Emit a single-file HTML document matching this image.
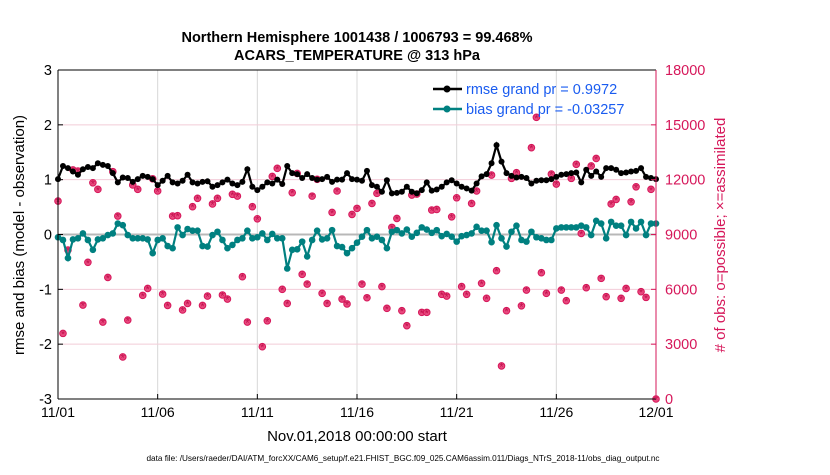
<!DOCTYPE html>
<html><head><meta charset="utf-8"><style>
body{margin:0;background:#fff}
svg text{font-family:"Liberation Sans",Arial,sans-serif}
</style></head><body>
<svg id="chart" width="830" height="470" viewBox="0 0 830 470" xmlns="http://www.w3.org/2000/svg">
<rect width="830" height="470" fill="#fff"/>
<g id="grid"></g>
<g id="obs"></g>
<g id="lines"></g>
<g id="axes"></g>
<text x="357" y="42" text-anchor="middle" font-size="14.5" font-weight="bold">Northern Hemisphere 1001438 / 1006793 = 99.468%</text>
<text x="357" y="60" text-anchor="middle" font-size="14.5" font-weight="bold">ACARS_TEMPERATURE @ 313 hPa</text>
<text x="357" y="441" text-anchor="middle" font-size="15">Nov.01,2018 00:00:00 start</text>
<text transform="translate(24,235) rotate(-90)" text-anchor="middle" font-size="15">rmse and bias (model - observation)</text>
<text transform="translate(725,235) rotate(-90)" text-anchor="middle" font-size="15" fill="#d6175a"># of obs: o=possible; ×=assimilated</text>
<text x="403" y="461" text-anchor="middle" font-size="8.2">data file: /Users/raeder/DAI/ATM_forcXX/CAM6_setup/f.e21.FHIST_BGC.f09_025.CAM6assim.011/Diags_NTrS_2018-11/obs_diag_output.nc</text>
<g>
<line x1="433" y1="89" x2="462" y2="89" stroke="#000" stroke-width="2.5"/>
<circle cx="447" cy="89" r="3.5" fill="#000"/>
<text x="466" y="94" font-size="14.5" fill="#1a5cf0">rmse grand pr = 0.9972</text>
<line x1="433" y1="109" x2="462" y2="109" stroke="#008080" stroke-width="2.5"/>
<circle cx="447" cy="109" r="3.5" fill="#008080"/>
<text x="466" y="114" font-size="14.5" fill="#1a5cf0">bias grand pr = -0.03257</text>
</g>
</svg>
<script>
const xTickLabels=["11/01","11/06","11/11","11/16","11/21","11/26","12/01"];
const leftTicks=[-3,-2,-1,0,1,2,3];
const rightTicks=[0,3000,6000,9000,12000,15000,18000];
const rmse=[1.01,1.25,1.21,1.15,1.09,1.19,1.23,1.21,1.30,1.27,1.25,1.12,0.95,1.04,1.03,0.96,1.01,1.07,1.05,1.01,0.90,0.98,1.07,0.95,0.93,0.98,1.09,0.95,0.93,0.96,
0.97,0.87,0.90,0.95,1.0,0.93,0.90,0.96,1.19,0.87,0.81,0.87,0.95,0.93,1.0,0.92,1.25,1.12,1.10,1.03,1.10,1.03,1.0,1.01,1.05,0.96,1.0,1.0,1.12,1.01,
1.0,0.98,1.16,0.90,0.87,0.78,0.99,0.75,0.76,0.78,0.87,0.78,0.75,0.81,0.95,0.80,0.82,0.87,0.95,0.99,0.93,0.87,0.84,0.80,0.93,1.06,1.10,1.30,1.63,1.33,
1.12,1.07,1.04,1.05,1.03,0.93,0.98,0.99,0.99,1.01,1.05,1.09,1.10,1.12,1.13,0.95,1.18,1.07,1.15,1.05,1.21,1.21,1.18,1.12,1.13,1.15,1.16,1.21,1.05,1.03,1.01];
const bias=[-0.05,-0.10,-0.43,-0.09,-0.07,0.02,-0.10,-0.28,-0.09,-0.07,-0.01,0.02,0.20,0.17,-0.01,-0.07,-0.07,-0.07,-0.09,-0.34,-0.10,-0.07,-0.21,-0.25,0.13,-0.01,0.10,0.07,0.07,-0.21,
-0.22,-0.01,0.05,-0.10,-0.25,-0.19,-0.10,-0.07,0.07,-0.07,-0.05,0.02,-0.10,0.01,-0.07,-0.07,-0.62,-0.28,-0.27,-0.13,-0.40,-0.10,0.07,-0.09,-0.07,0.08,-0.21,-0.23,-0.34,-0.25,
-0.15,-0.04,0.08,-0.07,-0.04,-0.10,-0.25,0.05,0.08,0.02,0.09,-0.04,0.03,0.13,0.09,0.03,0.08,-0.03,0.01,-0.04,-0.13,-0.03,-0.01,0.02,0.14,0.07,0.07,-0.14,0.17,-0.07,
-0.22,0.05,0.16,-0.10,-0.13,0.05,-0.05,-0.07,-0.10,-0.10,0.11,0.13,0.13,0.13,0.13,0.16,0.13,-0.01,0.25,0.20,-0.07,0.23,0.16,0.16,-0.01,0.23,0.11,0.23,-0.01,0.20,0.20];
const obsCount=[10830,3590,8150,12530,12470,5140,7480,11830,11470,4210,6650,12440,10010,2300,4320,11710,11470,5670,6050,12050,11380,5740,5120,10010,10030,4870,5230,10520,10980,5120,
5630,10670,10980,5690,5470,11200,11100,6690,4210,10520,9860,2860,4280,12180,12620,6000,5230,11290,12340,6820,6290,11100,12020,5780,5230,10210,11380,5470,5200,10100,10430,
6290,5540,10700,11250,6150,4960,9390,9880,4830,4010,11160,11210,4740,4740,10340,10370,5730,5630,9970,11010,6150,5730,10700,11380,6330,5510,12250,7020,1810,4830,
12070,12380,5100,5960,13750,15410,6910,5780,12310,11760,5960,5380,12070,12840,9060,6090,12750,13160,6600,5600,10670,10920,5510,6050,10790,11610,5870,5560,11470,0];
const X0=58,X1=656,Y0=70,Y1=399,DAYS=30;
const pink="#d6175a",NS="http://www.w3.org/2000/svg";
function xs(d){return X0+(X1-X0)*d/DAYS;}
function yl(v){return Y1-(v+3)/6*(Y1-Y0);}
function yr(c){return Y1-c/18000*(Y1-Y0);}
function mk(tag,attrs,parent){const e=document.createElementNS(NS,tag);for(const k in attrs)e.setAttribute(k,attrs[k]);parent.appendChild(e);return e;}
const grid=document.getElementById('grid'),axes=document.getElementById('axes'),obs=document.getElementById('obs'),lines=document.getElementById('lines');
xTickLabels.forEach((t,i)=>{const x=xs(i*5);
 if(i>0&&i<6){const g=mk('line',{x1:x,x2:x,y1:Y0,y2:Y1,stroke:'#d8d8d8','stroke-width':1},grid);
 
 }
 mk('line',{x1:x,x2:x,y1:Y1,y2:Y1-5,stroke:'#000'},axes);
 const tx=mk('text',{x:x,y:417,'text-anchor':'middle','font-size':14},axes);tx.textContent=t;
 
 });
rightTicks.forEach(c=>{const y=yr(c);
 if(c>0&&c<18000){const g=mk('line',{x1:X0,x2:X1,y1:y,y2:y,stroke:'#f2ccd8','stroke-width':1},grid);
 
 }
 mk('line',{x1:X1,x2:X1-5,y1:y,y2:y,stroke:pink},axes);
 const tx=mk('text',{x:665,y:y+5,'font-size':14.5,fill:pink},axes);tx.textContent=c;
 
 });
leftTicks.forEach(v=>{const y=yl(v);
 mk('line',{x1:X0,x2:X0+5,y1:y,y2:y,stroke:'#000'},axes);
 const tx=mk('text',{x:52,y:y+5,'text-anchor':'end','font-size':14.5},axes);tx.textContent=v;
 
 });
const zl=mk('line',{x1:X0,x2:X1,y1:yl(0),y2:yl(0),stroke:'#b8b8b8','stroke-width':2},grid);


mk('line',{x1:X0,x2:X1,y1:Y0,y2:Y0,stroke:'#000'},axes);
mk('line',{x1:X0,x2:X1,y1:Y1,y2:Y1,stroke:'#000'},axes);
mk('line',{x1:X0,x2:X0,y1:Y0,y2:Y1,stroke:'#000'},axes);
mk('line',{x1:X1,x2:X1,y1:Y0,y2:Y1,stroke:pink},axes);
const step=DAYS/(rmse.length-1);
obsCount.forEach((c,i)=>{const x=xs(i*DAYS/(obsCount.length-1)),y=yr(c);
 const o=mk('circle',{cx:x,cy:y,r:3.3,fill:'#e8497e',stroke:pink,'stroke-width':1},obs);
 
 
 const s=mk('text',{x:x,y:y+4.5,'text-anchor':'middle','font-size':11,fill:'#c0104c'},obs);s.textContent='*';
 
 });
function series(vals,color,name,r){
 const p=mk('polyline',{points:vals.map((v,i)=>xs(i*step).toFixed(1)+','+yl(v).toFixed(1)).join(' '),fill:'none',stroke:color,'stroke-width':2.2},lines);
 
 
 vals.forEach((v,i)=>{const c=mk('circle',{cx:xs(i*step),cy:yl(v),r:r,fill:color},lines);
  
  });}
series(bias,'#008080','bias',3.3);
series(rmse,'#000','rmse',3);
</script>
</body></html>
